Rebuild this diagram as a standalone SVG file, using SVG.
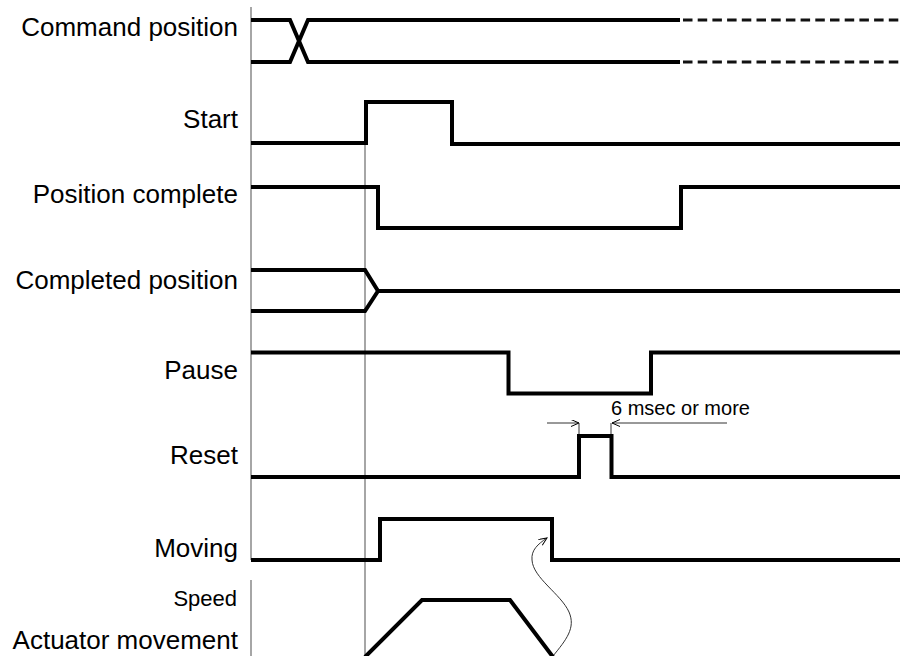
<svg xmlns="http://www.w3.org/2000/svg" width="900" height="656" viewBox="0 0 900 656">
<defs>
<style>
.lbl{font-family:"Liberation Sans",Arial,sans-serif;font-size:26px;fill:#000;text-anchor:end}
.sm{font-family:"Liberation Sans",Arial,sans-serif;font-size:22px;fill:#000}
.dim{font-family:"Liberation Sans",Arial,sans-serif;font-size:20px;fill:#000}
.sig{fill:none;stroke:#000;stroke-width:4;stroke-linejoin:miter;stroke-linecap:butt}
.dash{fill:none;stroke:#111;stroke-width:3;stroke-dasharray:9.5 5.2}
.ref{fill:none;stroke:#888;stroke-width:1.5}
.thin{fill:none;stroke:#333;stroke-width:1}
</style>
<marker id="oa" markerUnits="userSpaceOnUse" markerWidth="10" markerHeight="8" refX="8" refY="3.5" orient="auto">
<path d="M0,0 L8,3.5 L0,7" fill="none" stroke="#000" stroke-width="1"/>
</marker>
</defs>
<rect width="900" height="656" fill="#fff"/>
<g id="connectors">
<line class="ref" x1="251" y1="7" x2="251" y2="560"/>
<line class="ref" x1="251" y1="580" x2="251" y2="656"/>
<line class="ref" x1="365" y1="143" x2="365" y2="656"/>
<line class="thin" x1="547" y1="423" x2="579" y2="423" marker-end="url(#oa)"/>
<line class="thin" x1="727" y1="423" x2="612" y2="423" marker-end="url(#oa)"/>
<line class="thin" x1="579" y1="423" x2="579" y2="436"/>
<line class="thin" x1="611" y1="423" x2="611" y2="436"/>
<path class="thin" d="M553,656 C566,640 576,628 569,612 C561,594 533,578 532,560 C531,550 538,544 547,538" marker-end="url(#oa)"/>
</g>
<g id="command-position">
<text class="lbl" x="238" y="36">Command position</text>
<path class="sig" d="M251,20 L290,20 L308,62 L680,62"/>
<path class="sig" d="M251,62 L290,62 L308,20 L680,20"/>
<line class="dash" x1="683" y1="20" x2="900" y2="20"/>
<line class="dash" x1="683" y1="62" x2="900" y2="62"/>
</g>
<g id="start">
<text class="lbl" x="238" y="128">Start</text>
<path class="sig" d="M251,143 L366,143 L366,102 L452,102 L452,144 L900,144"/>
</g>
<g id="position-complete">
<text class="lbl" x="238" y="203">Position complete</text>
<path class="sig" d="M251,187 L378,187 L378,228 L681,228 L681,187 L900,187"/>
</g>
<g id="completed-position">
<text class="lbl" x="238" y="289">Completed position</text>
<path class="sig" d="M251,270 L365,270 L378,291 L365,311 L251,311"/>
<line class="sig" x1="378" y1="291" x2="900" y2="291"/>
</g>
<g id="pause">
<text class="lbl" x="238" y="379">Pause</text>
<path class="sig" d="M251,352.5 L508.5,352.5 L508.5,393.5 L651,393.5 L651,352.5 L900,352.5"/>
</g>
<g id="reset">
<text class="lbl" x="238" y="464">Reset</text>
<path class="sig" d="M251,477 L579,477 L579,436 L611.5,436 L611.5,477 L900,477"/>
<text class="dim" x="611" y="415">6 msec or more</text>
</g>
<g id="moving">
<text class="lbl" x="238" y="557">Moving</text>
<path class="sig" d="M251,560 L380,560 L380,519 L552,519 L552,560 L900,560"/>
</g>
<g id="actuator-movement">
<text class="sm" x="237" y="606" text-anchor="end">Speed</text>
<text class="lbl" x="238" y="649">Actuator movement</text>
<path class="sig" d="M365,657 L422,600 L510,600 L553,657"/>
</g>
</svg>
